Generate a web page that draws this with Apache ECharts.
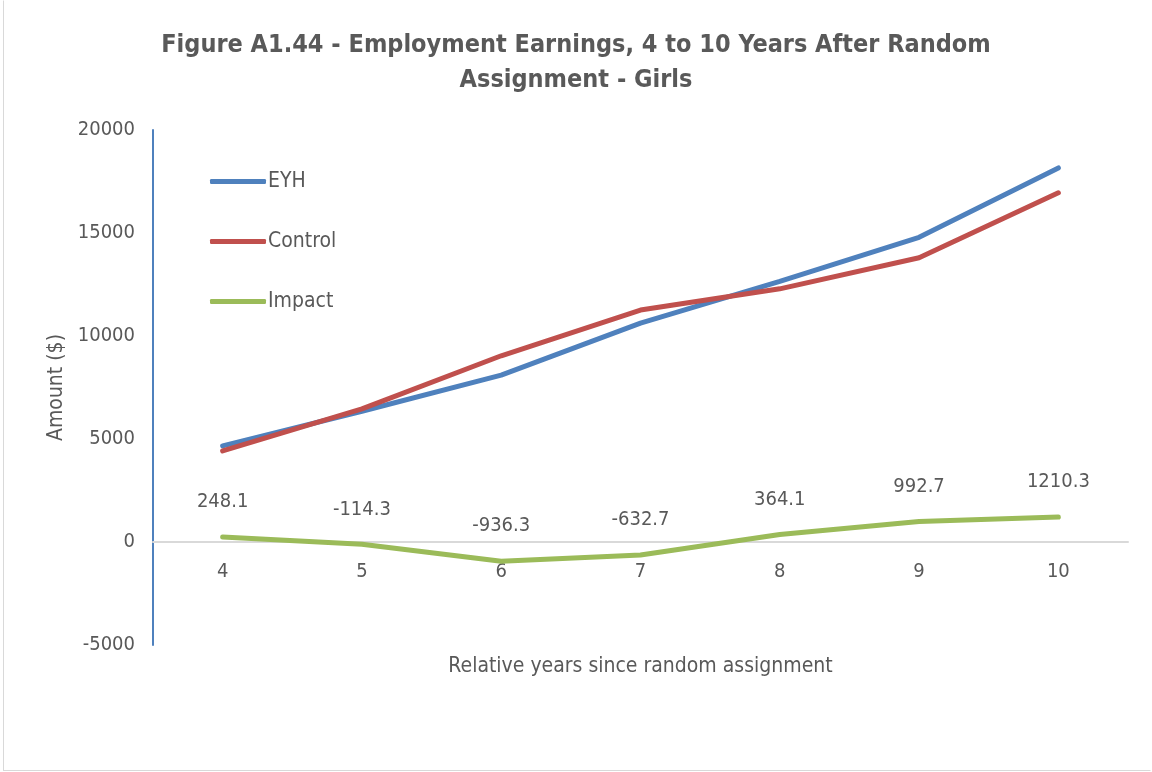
<!DOCTYPE html>
<html>
<head>
<meta charset="utf-8">
<script src="https://cdn.jsdelivr.net/npm/echarts@6/dist/echarts.min.js"></script>
<style>
html,body{margin:0;padding:0;background:#fff;}
#frame{position:absolute;left:3px;top:0px;width:1146px;height:769px;border:1px solid #d9d9d9;border-top-color:#fff;border-right-color:#fff;}
#chart{position:absolute;left:0;top:0;width:1152px;height:772px;}
</style>
</head>
<body>
<div id="frame"></div>
<div id="chart"></div>
<script>
const categories = ['4','5','6','7','8','9','10'];
const eyh = [4668, 6346, 8104, 10627, 12654, 14793, 18160];
const control = [4420, 6460, 9040, 11260, 12290, 13800, 16950];
const impact = [248.1, -114.3, -936.3, -632.7, 364.1, 992.7, 1210.3];
const seriesNames = ['EYH', 'Control', 'Impact'];
const yMin = -5000, yMax = 20000, yStep = 5000;

function hasFont(name) {
  const c = document.createElement('canvas').getContext('2d');
  const s = 'abcdefghijklmnopqrstuvwxyz0123456789';
  c.font = '40px monospace'; const w1 = c.measureText(s).width;
  c.font = '40px "' + name + '", monospace'; const w2 = c.measureText(s).width;
  c.font = '40px serif'; const w3 = c.measureText(s).width;
  c.font = '40px "' + name + '", serif'; const w4 = c.measureText(s).width;
  return w1 !== w2 || w3 !== w4;
}
const narrowCandidates = ['Liberation Sans Narrow', 'Arial Narrow', 'DejaVu Sans Condensed', 'Roboto Condensed'];
let FONT = 'Liberation Sans', scale = 0.84;
for (const f of narrowCandidates) { if (hasFont(f)) { FONT = f; scale = 1; break; } }
const TXT = '#595959';
const fs = v => Math.round(v * scale);

const gridTop = 130, gridBottom = 127, chartH = 772;
const plotH = chartH - gridTop - gridBottom;
// distance from grid bottom up to the zero line (derived from the axis range)
const zeroOffset = plotH * (0 - yMin) / (yMax - yMin);

const chart = echarts.init(document.getElementById('chart'));
chart.setOption({
  backgroundColor: 'transparent',
  animation: false,
  title: {
    text: 'Figure A1.44 - Employment Earnings, 4 to 10 Years After Random\nAssignment - Girls',
    left: 'center', top: 23, padding: [5, 0, 5, 12],
    textStyle: {fontFamily: FONT, fontSize: fs(25), fontWeight: 'bold', color: TXT, lineHeight: 35}
  },
  legend: {
    orient: 'vertical', left: 205, top: 166, itemGap: 39,
    itemWidth: 56, itemHeight: 5, icon: 'roundRect',
    textStyle: {fontFamily: FONT, fontSize: fs(21), color: TXT, padding: [0, 0, 0, -3]},
    data: seriesNames
  },
  grid: {left: 153, right: 24, top: gridTop, bottom: gridBottom, containLabel: false, outerBoundsMode: 'none'},
  xAxis: {
    type: 'category', data: categories, boundaryGap: true,
    position: 'bottom', offset: -zeroOffset,
    name: 'Relative years since random assignment', nameLocation: 'middle', nameGap: 114,
    nameTextStyle: {fontFamily: FONT, fontSize: fs(21), color: TXT},
    axisLine: {onZero: false, lineStyle: {color: '#d9d9d9', width: 2}},
    axisTick: {show: false},
    axisLabel: {fontFamily: FONT, fontSize: fs(20), color: TXT, margin: 20}
  },
  yAxis: {
    type: 'value', min: yMin, max: yMax, interval: yStep,
    name: 'Amount ($)', nameLocation: 'middle', nameGap: 86,
    nameTextStyle: {fontFamily: FONT, fontSize: fs(21), color: TXT},
    axisLine: {show: true, lineStyle: {color: '#4F81BD', width: 2}},
    axisTick: {show: false},
    splitLine: {show: false},
    axisLabel: {fontFamily: FONT, fontSize: fs(20), color: TXT, margin: 18, formatter: v => String(v)}
  },
  series: [
    {name: 'EYH', type: 'line', data: eyh, symbol: 'none', lineStyle: {color: '#4F81BD', width: 5, cap: 'round'}, itemStyle: {color: '#4F81BD'}, z: 3},
    {name: 'Control', type: 'line', data: control, symbol: 'none', lineStyle: {color: '#C0504D', width: 5, cap: 'round'}, itemStyle: {color: '#C0504D'}, z: 4},
    {name: 'Impact', type: 'line', data: impact, symbol: 'circle', symbolSize: 2, showSymbol: true,
     lineStyle: {color: '#9BBB59', width: 5, cap: 'round'}, itemStyle: {color: '#9BBB59'},
     label: {show: true, position: 'top', distance: 24, fontFamily: FONT, fontSize: fs(20), color: TXT}}
  ]
});
</script>
</body>
</html>
